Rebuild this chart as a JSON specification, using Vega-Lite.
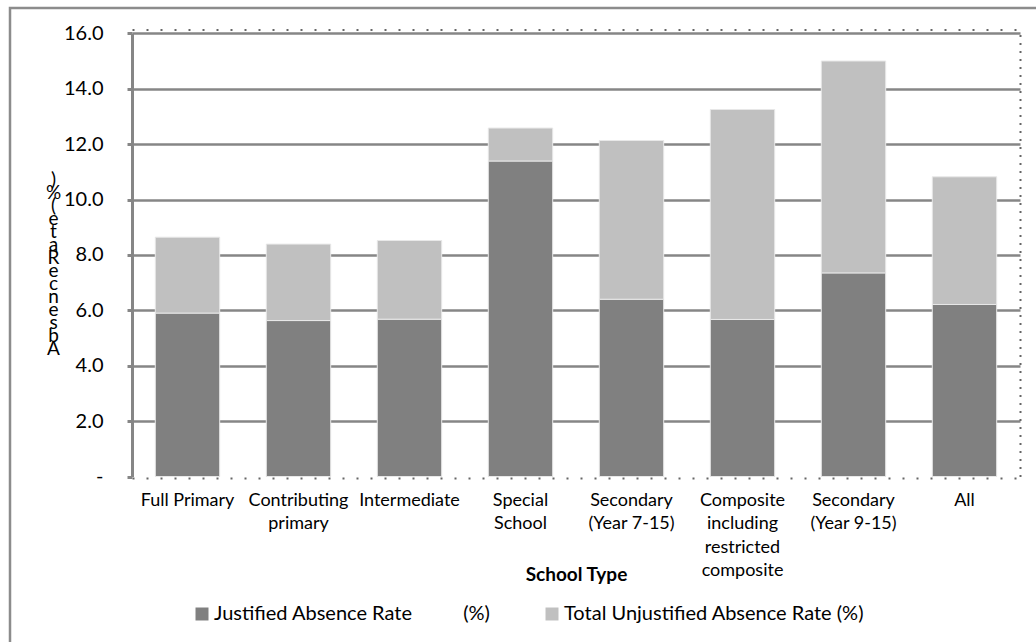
{
  "$schema": "https://vega.github.io/schema/vega-lite/v6.json",
  "width": 1040,
  "height": 650,
  "autosize": {"type": "none"},
  "padding": {"left": 10, "top": 8, "right": 0, "bottom": 0},
  "background": "white",
  "config": {
    "font": "Lato",
    "view": {"stroke": "#8c8c8c", "strokeWidth": 2.5},
    "axis": {"labelColor": "#000000", "titleColor": "#000000"}
  },
  "data": {
    "values": [
      {"school": "Full Primary", "measure": "Justified Absence Rate (%)", "rate": 5.9},
      {"school": "Full Primary", "measure": "Total Unjustified Absence Rate (%)", "rate": 2.74},
      {"school": "Contributing primary", "measure": "Justified Absence Rate (%)", "rate": 5.63},
      {"school": "Contributing primary", "measure": "Total Unjustified Absence Rate (%)", "rate": 2.76},
      {"school": "Intermediate", "measure": "Justified Absence Rate (%)", "rate": 5.68},
      {"school": "Intermediate", "measure": "Total Unjustified Absence Rate (%)", "rate": 2.84},
      {"school": "Special School", "measure": "Justified Absence Rate (%)", "rate": 11.39},
      {"school": "Special School", "measure": "Total Unjustified Absence Rate (%)", "rate": 1.19},
      {"school": "Secondary (Year 7-15)", "measure": "Justified Absence Rate (%)", "rate": 6.4},
      {"school": "Secondary (Year 7-15)", "measure": "Total Unjustified Absence Rate (%)", "rate": 5.73},
      {"school": "Composite including restricted composite", "measure": "Justified Absence Rate (%)", "rate": 5.67},
      {"school": "Composite including restricted composite", "measure": "Total Unjustified Absence Rate (%)", "rate": 7.58},
      {"school": "Secondary (Year 9-15)", "measure": "Justified Absence Rate (%)", "rate": 7.35},
      {"school": "Secondary (Year 9-15)", "measure": "Total Unjustified Absence Rate (%)", "rate": 7.65},
      {"school": "All", "measure": "Justified Absence Rate (%)", "rate": 6.21},
      {"school": "All", "measure": "Total Unjustified Absence Rate (%)", "rate": 4.61}
    ]
  },
  "layer": [
    {
      "mark": {"type": "bar", "stroke": "#e8e8e8", "strokeWidth": 1},
      "encoding": {
        "x": {
          "field": "school",
          "type": "nominal",
          "sort": null,
          "scale": {"range": [122, 1010], "paddingInner": 0.42, "paddingOuter": 0.21},
          "axis": {
            "orient": "bottom",
            "offset": -180,
            "domainColor": "#666666",
            "domainWidth": 2,
            "domainDash": [2, 12],
            "ticks": false,
            "labelAngle": 0,
            "labelFontSize": 18,
            "labelLineHeight": 23.5,
            "labelPadding": 13,
            "labelLimit": 300,
            "labelOverlap": false,
            "labelExpr": "datum.value == 'Contributing primary' ? ['Contributing', 'primary'] : datum.value == 'Special School' ? ['Special', 'School'] : datum.value == 'Secondary (Year 7-15)' ? ['Secondary', '(Year 7-15)'] : datum.value == 'Secondary (Year 9-15)' ? ['Secondary', '(Year 9-15)'] : datum.value == 'Composite including restricted composite' ? ['Composite', 'including', 'restricted', 'composite'] : datum.label",
            "title": "School Type",
            "titleFontSize": 19,
            "titleFontWeight": "bold",
            "titleBaseline": "middle",
            "titleY": 96
          }
        },
        "y": {
          "field": "rate",
          "type": "quantitative",
          "stack": "zero",
          "scale": {"domain": [0, 16], "range": [468.5, 25.3], "nice": false, "zero": true},
          "axis": {
            "orient": "left",
            "offset": -122,
            "values": [0, 2, 4, 6, 8, 10, 12, 14, 16],
            "domainColor": "#868686",
            "domainWidth": 3,
            "tickColor": "#868686",
            "tickWidth": 3,
            "tickSize": 5,
            "grid": true,
            "gridColor": {"condition": {"test": "datum.value == 0", "value": "transparent"}, "value": "#868686"},
            "gridWidth": 2.5,
            "labelFontSize": 20,
            "labelPadding": 24,
            "labelExpr": "datum.value == 0 ? '-\u00a0\u00a0\u00a0\u00a0\u00a0' : format(datum.value, '.1f')",
            "title": [")", "%", "(", "e", "t", "a", "R", "e", "c", "n", "e", "s", "b", "A"],
            "titleAngle": 0,
            "titleAlign": "center",
            "titleBaseline": "top",
            "titleFontSize": 19,
            "titleFontWeight": "normal",
            "titleLineHeight": 13,
            "titleX": -79,
            "titleY": 162
          }
        },
        "color": {
          "field": "measure",
          "type": "nominal",
          "scale": {
            "domain": ["Justified Absence Rate (%)", "Total Unjustified Absence Rate (%)"],
            "range": ["#808080", "#c0c0c0"]
          },
          "legend": {
            "orient": "none",
            "direction": "horizontal",
            "legendX": 182,
            "legendY": 596,
            "title": null,
            "symbolType": "square",
            "symbolSize": 169,
            "symbolStrokeWidth": 0,
            "labelFontSize": 20,
            "labelColor": "#000000",
            "labelOffset": 2,
            "labelLimit": 400,
            "columnPadding": 51,
            "labelExpr": "datum.value == 'Justified Absence Rate (%)' ? 'Justified Absence Rate\u00a0\u00a0\u00a0\u00a0\u00a0\u00a0\u00a0\u00a0\u00a0\u00a0(%)' : datum.label"
          }
        },
        "order": {"field": "measure", "sort": "ascending"}
      }
    },
    {
      "mark": {"type": "bar", "opacity": 0},
      "encoding": {
        "x": {
          "field": "school",
          "type": "nominal",
          "sort": null,
          "axis": {
            "orient": "top",
            "offset": -21.5,
            "domainColor": "#666666",
            "domainWidth": 2,
            "domainDash": [2, 12],
            "ticks": false,
            "labels": false,
            "title": null
          }
        },
        "y": {
          "field": "rate",
          "type": "quantitative",
          "stack": "zero",
          "axis": {
            "orient": "right",
            "offset": -30,
            "domainColor": "#666666",
            "domainWidth": 2,
            "domainDash": [2, 6],
            "ticks": false,
            "labels": false,
            "grid": false,
            "title": null
          }
        }
      }
    }
  ],
  "resolve": {"axis": {"x": "independent", "y": "independent"}}
}
